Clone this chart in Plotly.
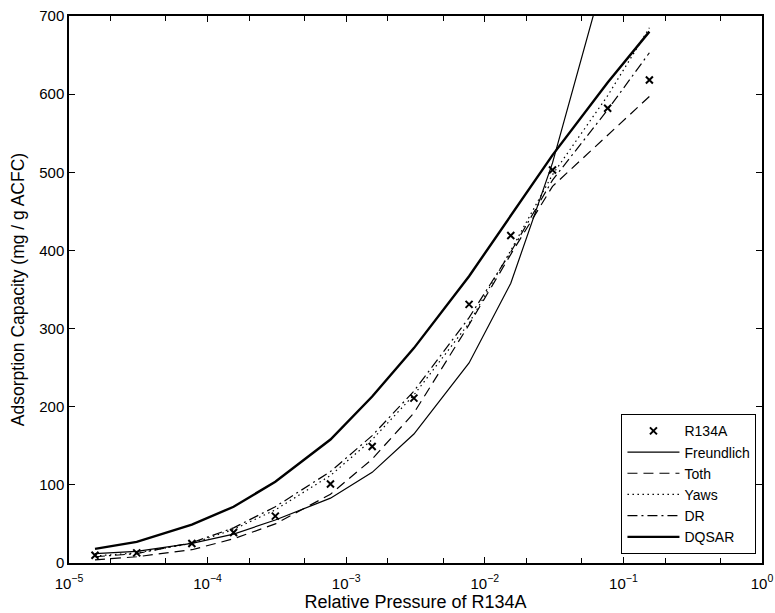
import plotly.graph_objects as go

pressure = [1.54e-5, 3.08e-5, 7.7e-5, 1.54e-4, 3.08e-4, 7.7e-4, 1.54e-3, 3.08e-3,
            7.7e-3, 1.54e-2, 3.08e-2, 7.7e-2, 1.54e-1]
r134a = [10, 13, 25, 39, 60, 101, 149, 211, 331, 419, 503, 582, 618]
freundlich = [12, 15, 25, 37, 55, 83, 116, 165, 256, 358, 512, 767, 1090]
toth = [4, 8, 17, 31, 50, 88, 133, 192, 305, 395, 482, 548, 597]
yaws = [9, 13, 25, 43, 68, 112, 158, 215, 307, 400, 497, 598, 685]
dr = [8, 12, 26, 45, 72, 117, 163, 220, 314, 398, 490, 580, 653]
dqsar = [18, 27, 49, 72, 104, 158, 213, 275, 367, 445, 522, 615, 680]

xticks = [1e-5, 1e-4, 1e-3, 1e-2, 1e-1, 1e0]
xticktext = ["10<sup>−5</sup>", "10<sup>−4</sup>", "10<sup>−3</sup>", "10<sup>−2</sup>",
             "10<sup>−1</sup>", "10<sup>0</sup>"]
yticks = [0, 100, 200, 300, 400, 500, 600, 700]

fig = go.Figure()
fig.add_trace(go.Scatter(x=pressure, y=r134a, mode="markers", name="R134A",
                         marker=dict(symbol="x-thin", size=7, color="black",
                                     line=dict(color="black", width=2))))
fig.add_trace(go.Scatter(x=pressure, y=freundlich, mode="lines", name="Freundlich",
                         line=dict(color="black", width=1.2)))
fig.add_trace(go.Scatter(x=pressure, y=toth, mode="lines", name="Toth",
                         line=dict(color="black", width=1.2, dash="10px,6px")))
fig.add_trace(go.Scatter(x=pressure, y=yaws, mode="lines", name="Yaws",
                         line=dict(color="black", width=1.2, dash="1.5px,3.5px")))
fig.add_trace(go.Scatter(x=pressure, y=dr, mode="lines", name="DR",
                         line=dict(color="black", width=1.2, dash="10px,4px,2px,4px")))
fig.add_trace(go.Scatter(x=pressure, y=dqsar, mode="lines", name="DQSAR",
                         line=dict(color="black", width=2.4)))

fig.update_layout(
    width=775, height=613,
    margin=dict(l=69, r=13, t=16, b=50),
    paper_bgcolor="white", plot_bgcolor="white",
    font=dict(family="Liberation Sans, Arial, sans-serif", size=15, color="black"),
    showlegend=True,
    legend=dict(x=0.992, y=0.016, xanchor="right", yanchor="bottom",
                bgcolor="white", bordercolor="black", borderwidth=1,
                font=dict(size=14), tracegroupgap=0, itemwidth=52),
    xaxis=dict(type="log", range=[-5, 0], tickvals=xticks, ticktext=xticktext,
               ticks="inside", ticklen=6, tickcolor="black", tickwidth=1,
               showline=True, linecolor="black", linewidth=1.5, mirror="allticks",
               showgrid=False, zeroline=False, automargin=False,
               ticklabelstandoff=6,
               minor=dict(ticks="inside", ticklen=5, tickcolor="black",
                          showgrid=False),
               title=dict(text="Relative Pressure of R134A", font=dict(size=18),
                          standoff=4)),
    yaxis=dict(range=[0, 700], tickvals=yticks, ticks="inside", ticklen=6,
               tickcolor="black", showline=True, linecolor="black", linewidth=1.5,
               mirror="allticks", showgrid=False, zeroline=False, automargin=False,
               title=dict(text="Adsorption Capacity (mg / g ACFC)", font=dict(size=17.5),
                          standoff=10)),
)

fig.write_html("out.html")
